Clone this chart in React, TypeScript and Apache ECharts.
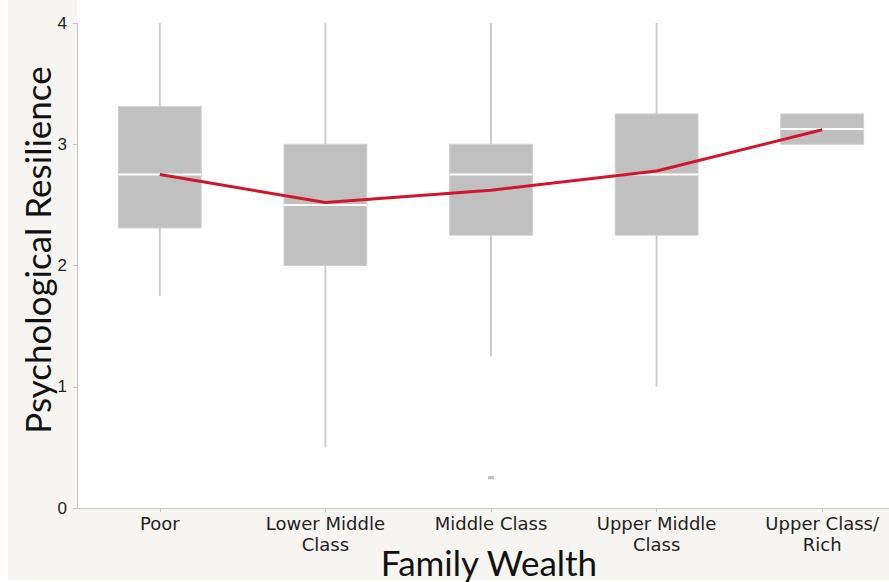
import React, { useEffect, useRef } from "react";
import * as echarts from "echarts";

const categories = ["Poor", "Lower Middle\nClass", "Middle Class", "Upper Middle\nClass", "Upper Class/\nRich"];
// [min, Q1, median, Q3, max] per wealth group
const boxStats = [
  [1.75, 2.31, 2.75, 3.31, 4],
  [0.5, 2.0, 2.5, 3.0, 4],
  [1.25, 2.25, 2.75, 3.0, 4],
  [1.0, 2.25, 2.75, 3.25, 4],
  [3.0, 3.0, 3.125, 3.25, 3.25],
];
const means = [2.75, 2.52, 2.62, 2.78, 3.12];
const outliers = [[2, 0.25]];
const yTicks = [0, 1, 2, 3, 4];
const xTitle = "Family Wealth";
const yTitle = "Psychological Resilience";

const BEIGE = "#f6f5f1";

export default function App() {
  const ref = useRef<HTMLDivElement>(null);

  useEffect(() => {
    if (!ref.current) return;
    const chart = echarts.init(ref.current, null, { renderer: "svg" });

    const boxData = boxStats.map((s, i) => [i, ...s]);

    chart.setOption({
      animation: false,
      backgroundColor: "#ffffff",
      graphic: [
        { type: "rect", z: 0, shape: { x: 8, y: 0, width: 69, height: 580 }, style: { fill: BEIGE } },
        { type: "rect", z: 0, shape: { x: 8, y: 509, width: 881, height: 71 }, style: { fill: BEIGE } },
        {
          type: "text",
          z: 5,
          x: 37,
          y: 250,
          rotation: Math.PI / 2,
          style: {
            text: yTitle,
            font: "35px Lato",
            fill: "#111",
            align: "center",
            verticalAlign: "middle",
          },
        },
        {
          type: "text",
          z: 5,
          x: 489,
          y: 562,
          style: {
            text: xTitle,
            font: "35px Lato",
            fill: "#111",
            align: "center",
            verticalAlign: "middle",
          },
        },
      ],
      grid: {
        left: 77,
        top: 23,
        width: 828,
        height: 485,
        outerBoundsMode: "none",
        containLabel: false,
        show: true,
        backgroundColor: "#ffffff",
        borderWidth: 0,
      },
      xAxis: {
        type: "category",
        data: categories,
        boundaryGap: true,
        axisLine: { lineStyle: { color: "#c9c5c0", width: 1 } },
        axisTick: { show: true, alignWithLabel: true, length: 4, lineStyle: { color: "#c9c5c0" } },
        axisLabel: {
          color: "#222",
          fontFamily: "DejaVu Sans",
          fontSize: 18,
          lineHeight: 21,
          margin: 5,
          interval: 0,
        },
        splitLine: { show: false },
      },
      yAxis: {
        type: "value",
        min: 0,
        max: 4,
        interval: 1,
        axisLine: { show: true, lineStyle: { color: "#c9c5c0", width: 1 } },
        axisTick: { show: true, length: 4, lineStyle: { color: "#c9c5c0" } },
        axisLabel: {
          color: "#222",
          fontFamily: "Liberation Sans",
          fontSize: 17,
          margin: 10,
          formatter: (v: number) => (yTicks.includes(v) ? String(v) : ""),
        },
        splitLine: { show: false },
      },
      series: [
        {
          type: "custom",
          data: boxData,
          encode: { x: 0, y: [1, 2, 3, 4, 5] },
          z: 2,
          renderItem: (params: any, api: any) => {
            const idx = api.value(0);
            const mn = api.value(1);
            const q1 = api.value(2);
            const md = api.value(3);
            const q3 = api.value(4);
            const mx = api.value(5);
            const band = api.size([1, 0])[0];
            const w = band * 0.5;
            const pMin = api.coord([idx, mn]);
            const pQ1 = api.coord([idx, q1]);
            const pMd = api.coord([idx, md]);
            const pQ3 = api.coord([idx, q3]);
            const pMax = api.coord([idx, mx]);
            const cx = pMd[0];
            const children: any[] = [];
            if (mx > q3) {
              children.push({
                type: "line",
                shape: { x1: cx, y1: pQ3[1], x2: cx, y2: pMax[1] },
                style: { stroke: "#cdcdcd", lineWidth: 2 },
              });
            }
            if (mn < q1) {
              children.push({
                type: "line",
                shape: { x1: cx, y1: pQ1[1], x2: cx, y2: pMin[1] },
                style: { stroke: "#cdcdcd", lineWidth: 2 },
              });
            }
            children.push({
              type: "rect",
              shape: { x: cx - w / 2, y: pQ3[1], width: w, height: pQ1[1] - pQ3[1] },
              style: { fill: "#c0c0c0", stroke: "#cfcfcf", lineWidth: 1 },
            });
            children.push({
              type: "line",
              shape: { x1: cx - w / 2, y1: pMd[1], x2: cx + w / 2, y2: pMd[1] },
              style: { stroke: "#ffffff", lineWidth: 2 },
            });
            return { type: "group", children };
          },
        },
        {
          type: "scatter",
          data: outliers,
          symbol: "rect",
          symbolSize: [6, 3],
          itemStyle: { color: "#b0b0b0" },
          z: 3,
        },
        {
          type: "line",
          data: means,
          showSymbol: false,
          symbol: "none",
          lineStyle: { color: "#d0162f", width: 3 },
          z: 4,
        },
      ],
    });

    return () => chart.dispose();
  }, []);

  return (
    <div
      ref={ref}
      style={{ position: "fixed", left: 0, top: 0, width: 889, height: 582 }}
    />
  );
}
